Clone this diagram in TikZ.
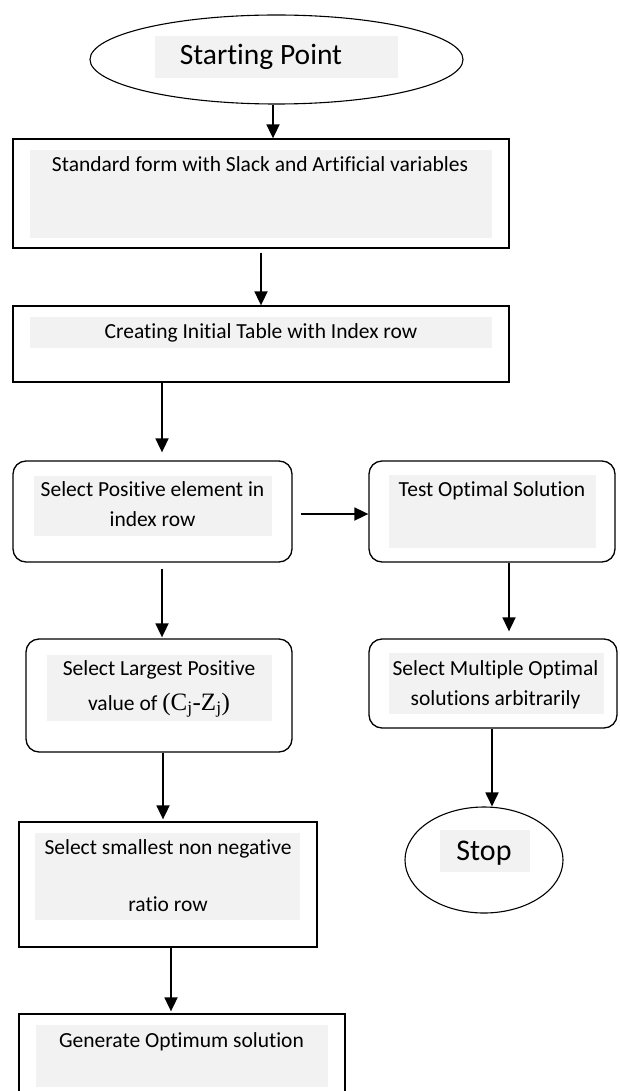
\documentclass[tikz,border=0pt]{standalone}
\usepackage{fontspec}
\setmainfont{Carlito}[RawFeature=-liga]
\newfontfamily\serifpart{Liberation Serif}
\usetikzlibrary{shapes.geometric,arrows.meta}
\definecolor{panel}{HTML}{F2F2F2}

\begin{document}
\begin{tikzpicture}[x=1pt, y=-1pt,
	box/.style={draw, line width=1.3pt, rectangle},
	rbox/.style={box, rounded corners=13pt},
	oval/.style={draw, line width=1.1pt, ellipse},
	txt/.style={anchor=base, inner sep=0pt, align=center, font=\fontsize{21.5}{26}\selectfont},
	flow/.style={line width=1.8pt, -{Triangle[width=13pt,length=14pt]}}]
	\useasboundingbox (0,0) rectangle (619,1091);
	% shapes
	\node[oval, minimum width=373pt, minimum height=89pt] (start) at (276.5,59.5) {};
	\node[box, minimum width=496pt, minimum height=109pt] (form) at (261,193.5) {};
	\node[box, minimum width=496pt, minimum height=76pt] (table) at (261,344) {};
	\node[rbox, minimum width=279pt, minimum height=101pt] (pos) at (152.5,511.5) {};
	\node[rbox, minimum width=246pt, minimum height=101pt] (test) at (492,511.5) {};
	\node[rbox, minimum width=266pt, minimum height=113pt] (largest) at (159,695.5) {};
	\node[rbox, minimum width=248pt, minimum height=89pt] (multi) at (493,683.5) {};
	\node[box, minimum width=298pt, minimum height=125pt] (small) at (168,884.5) {};
	\node[box, minimum width=326pt, minimum height=100pt] (gen) at (182,1064) {};
	\node[oval, minimum width=158pt, minimum height=106pt] (stop) at (484,860) {};
	% grey text panels
	\fill[panel] (155,36) rectangle (398,78);
	\fill[panel] (30,150) rectangle (492,238);
	\fill[panel] (30,317) rectangle (492,348);
	\fill[panel] (34,476) rectangle (272,536);
	\fill[panel] (389,475) rectangle (596,548);
	\fill[panel] (47,655) rectangle (272,721);
	\fill[panel] (389,653) rectangle (604,714);
	\fill[panel] (35,833) rectangle (300,920);
	\fill[panel] (36,1025) rectangle (328,1087);
	\fill[panel] (440,830) rectangle (530,872);
	% texts (base = last line)
	\node[txt, font=\fontsize{29.5}{34}\selectfont] (start text) at (261,65) {Starting Point};
	\node[txt] (form text) at (260,172) {Standard form with Slack and Artificial variables};
	\node[txt] (table text) at (261,338) {Creating Initial Table with Index row};
	\node[txt] (pos text) at (152.5,526) {Select Positive element in\\[4pt]index row};
	\node[txt] (test text) at (492,496) {Test Optimal Solution};
	\node[txt] (largest text) at (159,710) {Select Largest Positive\\[9pt]value of {\serifpart\fontsize{25}{26}\selectfont(C\textsubscript{j}-Z\textsubscript{j})}};
	\node[txt] (multi text) at (495.5,705) {Select Multiple Optimal\\[4pt]solutions arbitrarily};
	\node[txt] (small text) at (168,911) {Select smallest non negative\\[31pt]ratio row};
	\node[txt] (gen text) at (181.5,1047) {Generate Optimum solution};
	\node[txt, font=\fontsize{30}{34}\selectfont] (stop text) at (484,860) {Stop};
	% arrows
	\draw[flow] ([xshift=-3.5pt]start.south) -- ([xshift=-3.5pt]start.south |- form.north);
	\draw[flow, shorten <=4pt] (form) -- (table);
	\draw[flow, shorten >=8pt] ([xshift=9.5pt]pos.north |- table.south) -- ([xshift=9.5pt]pos.north);
	\draw[flow, shorten <=8pt] ([yshift=-2.5pt]pos.east) -- ([yshift=-2.5pt]pos.east -| test.west);
	\draw[flow, shorten <=6pt, shorten >=1pt] ([xshift=9.5pt]pos.south) -- ([xshift=9.5pt]pos.south |- largest.north);
	\draw[flow, shorten >=7pt] ([xshift=17pt]test.south) -- ([xshift=17pt]test.south |- multi.north);
	\draw[flow, shorten >=2pt] ([xshift=4pt]largest.south) -- ([xshift=4pt]largest.south |- small.north);
	\draw[flow, shorten >=2pt] ([xshift=3pt]small.south) -- ([xshift=3pt]small.south |- gen.north);
	\draw[flow] ([xshift=-1pt]multi.south) -- ([xshift=-1pt]multi.south |- stop.north);
\end{tikzpicture}
\end{document}
